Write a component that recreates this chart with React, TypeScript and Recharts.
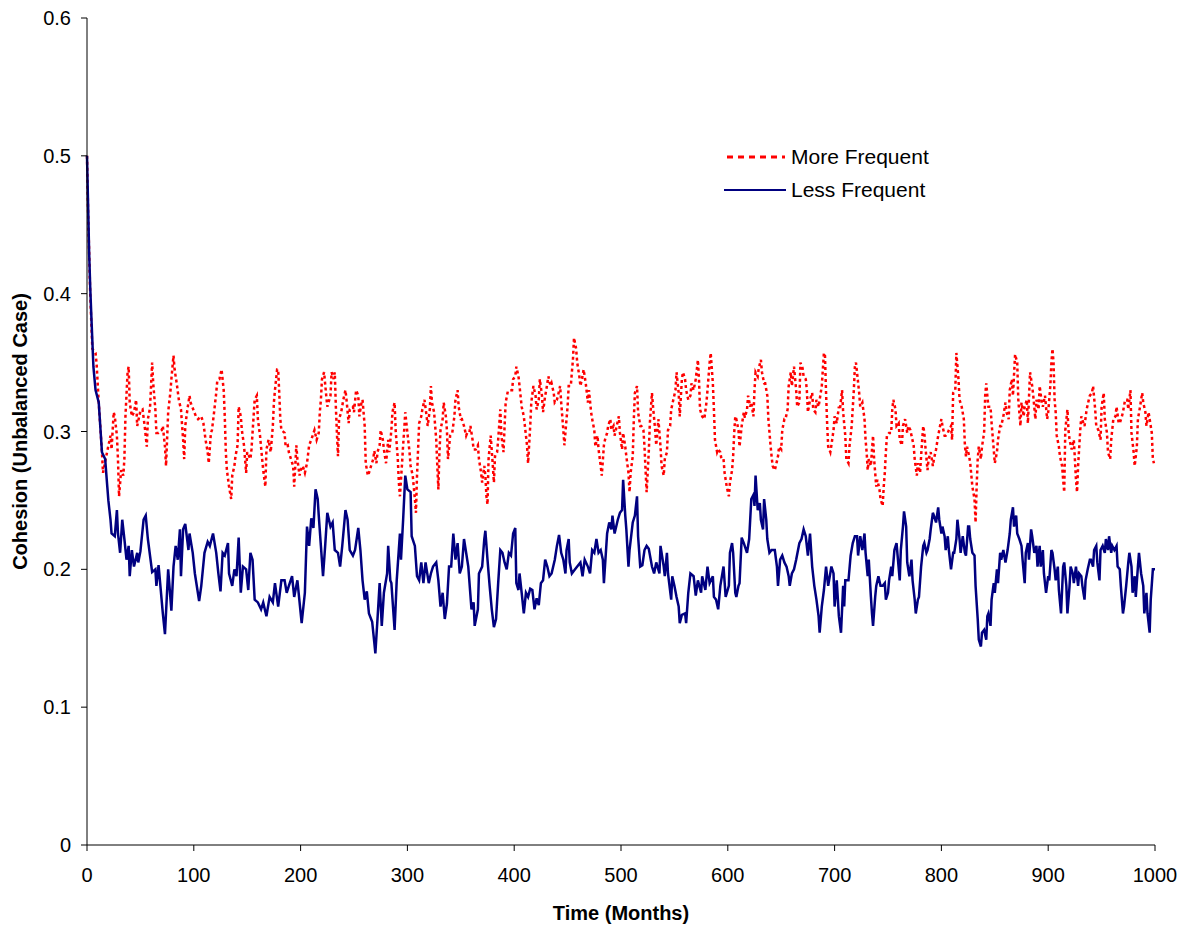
import React from "react";
import { LineChart, Line, XAxis, YAxis, Legend, Label } from "recharts";

// [month, cohesion] pairs
const lessFrequent: [number, number][] = [
  [0,0.5],[1,0.465],[2,0.43],[3,0.405],[4,0.385],[6,0.347],[8,0.33],[11,0.321],[14,0.285],[17,0.28],[19,0.26],[20,0.25],[22,0.236],[23,0.226],[26,0.224],[28,0.243],[29,0.226],[31,0.212],[33,0.236],[35,0.222],[37,0.207],[39,0.217],[40,0.195],[42,0.214],[44,0.202],[47,0.212],[48,0.205],[50,0.213],[53,0.236],[55,0.239],[57,0.222],[61,0.198],[64,0.2],[65,0.188],[67,0.203],[71,0.168],[73,0.153],[76,0.2],[79,0.17],[81,0.202],[83,0.217],[85,0.207],[87,0.229],[88,0.195],[90,0.229],[92,0.233],[95,0.214],[96,0.226],[99,0.212],
  [101,0.197],[105,0.177],[107,0.188],[110,0.212],[113,0.22],[115,0.217],[118,0.226],[121,0.212],[123,0.197],[125,0.184],[127,0.212],[129,0.21],[132,0.219],[133,0.197],[136,0.188],[138,0.2],[140,0.195],[142,0.223],[144,0.183],[146,0.202],[149,0.2],[151,0.185],[153,0.212],[155,0.207],[157,0.178],[160,0.176],[163,0.171],[165,0.176],[168,0.166],[171,0.18],[174,0.176],[176,0.19],[179,0.173],[182,0.192],[185,0.192],[187,0.183],[189,0.188],[192,0.195],[194,0.18],[197,0.192],
  [201,0.161],[204,0.183],[206,0.231],[208,0.217],[210,0.237],[212,0.23],[214,0.258],[216,0.251],[217,0.239],[219,0.217],[221,0.195],[223,0.217],[225,0.241],[228,0.231],[230,0.234],[232,0.214],[235,0.212],[237,0.202],[239,0.217],[242,0.243],[244,0.236],[246,0.214],[249,0.21],[251,0.214],[254,0.23],[256,0.214],[258,0.192],[260,0.178],[262,0.184],[264,0.168],[267,0.162],[269,0.147],[270,0.139],[272,0.164],[274,0.19],[276,0.159],[278,0.183],[281,0.197],[282,0.217],[284,0.192],[285,0.19],[288,0.156],[290,0.192],[293,0.226],[294,0.207],[296,0.236],[298,0.268],
  [300,0.258],[303,0.256],[304,0.224],[307,0.217],[309,0.195],[311,0.192],[313,0.205],[315,0.19],[317,0.205],[320,0.19],[322,0.197],[324,0.202],[327,0.205],[329,0.192],[331,0.173],[333,0.183],[335,0.164],[337,0.175],[339,0.202],[341,0.202],[343,0.226],[345,0.207],[347,0.219],[349,0.197],[351,0.202],[353,0.222],[355,0.212],[357,0.202],[360,0.171],[362,0.176],[363,0.159],[366,0.171],[367,0.197],[370,0.202],[372,0.222],[373,0.228],[375,0.207],[377,0.188],[379,0.171],[381,0.158],[383,0.164],[385,0.19],[387,0.214],[389,0.212],[391,0.205],[393,0.2],[395,0.212],[397,0.21],[399,0.226],
  [401,0.23],[402,0.19],[404,0.185],[405,0.197],[407,0.183],[409,0.168],[411,0.183],[413,0.18],[415,0.186],[417,0.185],[419,0.171],[421,0.179],[423,0.174],[425,0.19],[427,0.192],[429,0.207],[431,0.202],[433,0.195],[435,0.197],[438,0.207],[440,0.217],[442,0.225],[444,0.212],[446,0.207],[448,0.197],[449,0.214],[451,0.222],[452,0.205],[454,0.197],[457,0.2],[459,0.202],[462,0.205],[464,0.195],[466,0.207],[469,0.202],[471,0.197],[473,0.214],[475,0.212],[477,0.222],[479,0.212],[481,0.214],[483,0.207],[484,0.19],[487,0.226],[489,0.234],[491,0.229],[492,0.239],[494,0.226],[497,0.236],[499,0.241],
  [501,0.243],[502,0.265],[504,0.239],[505,0.229],[507,0.202],[508,0.214],[511,0.234],[513,0.239],[515,0.253],[516,0.224],[518,0.202],[520,0.203],[522,0.214],[524,0.217],[526,0.215],[529,0.202],[531,0.197],[533,0.205],[536,0.197],[537,0.217],[540,0.202],[541,0.195],[543,0.212],[544,0.197],[547,0.178],[548,0.195],[550,0.188],[552,0.18],[554,0.173],[555,0.161],[557,0.167],[560,0.168],[561,0.161],[563,0.183],[565,0.197],[568,0.195],[570,0.181],[572,0.192],[575,0.183],[576,0.195],[579,0.185],[581,0.202],[583,0.19],[586,0.195],[587,0.18],[589,0.178],[591,0.171],[593,0.188],[596,0.202],[598,0.18],
  [601,0.188],[602,0.212],[604,0.219],[605,0.212],[607,0.183],[608,0.18],[610,0.188],[611,0.19],[613,0.223],[615,0.219],[618,0.212],[620,0.222],[622,0.251],[624,0.254],[625,0.246],[626,0.268],[628,0.243],[630,0.248],[631,0.236],[633,0.229],[634,0.251],[636,0.236],[637,0.222],[639,0.212],[641,0.214],[644,0.214],[646,0.202],[647,0.188],[649,0.207],[651,0.21],[653,0.205],[655,0.202],[657,0.195],[658,0.188],[660,0.197],[662,0.2],[664,0.207],[667,0.219],[669,0.222],[671,0.229],[673,0.224],[675,0.21],[677,0.226],[679,0.202],[681,0.188],[683,0.178],[685,0.166],[686,0.154],[688,0.173],[690,0.185],[692,0.202],[694,0.188],[697,0.202],[699,0.197],
  [700,0.173],[702,0.192],[704,0.166],[706,0.154],[708,0.188],[709,0.173],[710,0.192],[713,0.192],[715,0.21],[717,0.219],[719,0.224],[721,0.224],[722,0.21],[724,0.224],[726,0.214],[728,0.226],[729,0.212],[731,0.195],[732,0.207],[734,0.18],[735,0.168],[736,0.159],[738,0.18],[739,0.188],[741,0.195],[743,0.188],[745,0.188],[747,0.19],[748,0.178],[750,0.183],[751,0.192],[753,0.202],[754,0.195],[756,0.214],[758,0.219],[759,0.21],[761,0.192],[762,0.214],[764,0.231],[765,0.242],[767,0.231],[768,0.205],[770,0.195],[772,0.207],[773,0.192],[775,0.178],[776,0.168],[778,0.178],[779,0.18],[781,0.202],[783,0.217],[784,0.219],[786,0.212],[787,0.214],[789,0.222],[790,0.229],[792,0.241],[793,0.239],[795,0.234],[797,0.245],[798,0.236],
  [800,0.226],[801,0.231],[803,0.224],[804,0.214],[806,0.224],[807,0.214],[809,0.2],[811,0.212],[812,0.212],[814,0.222],[815,0.236],[817,0.222],[818,0.212],[820,0.224],[822,0.212],[823,0.21],[825,0.231],[826,0.231],[827,0.222],[829,0.212],[831,0.21],[832,0.188],[834,0.164],[835,0.149],[837,0.144],[838,0.154],[840,0.156],[842,0.149],[843,0.166],[844,0.168],[846,0.159],[847,0.178],[849,0.19],[850,0.183],[852,0.2],[853,0.19],[855,0.212],[856,0.207],[858,0.214],[860,0.205],[862,0.214],[864,0.226],[865,0.236],[867,0.245],[868,0.231],[870,0.239],[871,0.226],[873,0.222],[875,0.217],[876,0.207],[878,0.19],[879,0.212],[881,0.219],[882,0.207],[884,0.229],[885,0.224],[887,0.212],[889,0.217],[890,0.202],[892,0.217],[893,0.202],[895,0.214],[896,0.197],[898,0.183],
  [900,0.195],[901,0.192],[903,0.214],[904,0.212],[906,0.2],[907,0.192],[909,0.202],[910,0.185],[912,0.168],[914,0.202],[915,0.205],[917,0.188],[918,0.168],[920,0.188],[921,0.202],[923,0.197],[924,0.19],[926,0.202],[928,0.188],[929,0.197],[931,0.195],[932,0.188],[934,0.178],[935,0.192],[937,0.2],[939,0.207],[940,0.207],[942,0.202],[943,0.214],[945,0.217],[946,0.205],[948,0.192],[949,0.214],[951,0.217],[953,0.212],[954,0.222],[956,0.214],[957,0.224],[959,0.212],[960,0.217],[962,0.214],[964,0.217],[965,0.202],[967,0.2],[968,0.188],[970,0.168],[971,0.173],[973,0.188],[975,0.205],[976,0.212],[978,0.202],[979,0.183],[981,0.195],[982,0.18],[984,0.202],[985,0.212],[987,0.197],[989,0.188],[990,0.168],[992,0.183],[993,0.168],[995,0.154],[996,0.178],[998,0.2],[1000,0.2],
];

const moreFrequent: [number, number][] = [
  [0,0.5],[1,0.46],[2,0.43],[3,0.4],[5,0.36],[8,0.357],[9,0.349],[11,0.321],[14,0.285],[15,0.27],[18,0.282],[22,0.297],[23,0.287],[25,0.314],[26,0.311],[28,0.297],[29,0.28],[30,0.253],[32,0.272],[34,0.268],[35,0.28],[36,0.311],[38,0.343],[39,0.347],[40,0.321],[42,0.311],[44,0.314],[46,0.323],[47,0.304],[50,0.315],[52,0.316],[54,0.304],[56,0.289],[57,0.309],[59,0.317],[61,0.35],[62,0.335],[64,0.316],[65,0.299],[67,0.299],[70,0.301],[71,0.304],[73,0.289],[74,0.275],[76,0.314],[78,0.328],[79,0.338],[81,0.355],[82,0.345],[84,0.335],[86,0.323],[88,0.316],[90,0.294],[91,0.28],[92,0.304],[94,0.316],[96,0.326],[97,0.321],
  [100,0.315],[102,0.311],[104,0.309],[107,0.311],[109,0.306],[111,0.294],[113,0.285],[114,0.277],[116,0.299],[117,0.301],[119,0.314],[121,0.328],[122,0.337],[124,0.338],[126,0.345],[128,0.33],[129,0.311],[130,0.285],[131,0.272],[133,0.26],[135,0.251],[136,0.268],[138,0.275],[139,0.282],[141,0.29],[142,0.318],[144,0.311],[145,0.301],[147,0.29],[149,0.27],[150,0.285],[153,0.28],[154,0.287],[156,0.311],[157,0.323],[159,0.326],[160,0.309],[162,0.297],[164,0.28],[165,0.272],[167,0.26],[168,0.287],[170,0.294],[172,0.285],[174,0.304],[175,0.321],[176,0.33],[178,0.345],[179,0.345],[180,0.328],[181,0.309],[182,0.301],[185,0.299],[186,0.289],[188,0.29],[189,0.285],[191,0.28],[193,0.275],[194,0.26],[196,0.29],[197,0.28],[199,0.268],
  [200,0.272],[202,0.275],[204,0.27],[206,0.277],[208,0.29],[210,0.294],[213,0.301],[215,0.294],[217,0.299],[218,0.314],[219,0.323],[220,0.338],[222,0.343],[224,0.326],[225,0.318],[228,0.326],[229,0.343],[231,0.338],[232,0.343],[233,0.318],[234,0.299],[235,0.282],[236,0.309],[238,0.314],[240,0.323],[242,0.33],[243,0.323],[245,0.306],[246,0.316],[249,0.318],[250,0.314],[252,0.33],[254,0.326],[255,0.311],[257,0.321],[258,0.323],[260,0.304],[261,0.277],[263,0.268],[264,0.27],[266,0.275],[268,0.28],[269,0.286],[271,0.277],[272,0.285],[274,0.29],[275,0.301],[277,0.294],[278,0.287],[280,0.277],[282,0.294],[283,0.285],[285,0.301],[286,0.314],[288,0.321],[289,0.301],[291,0.28],[292,0.263],[293,0.253],[295,0.277],[296,0.29],[297,0.301],[298,0.314],
  [300,0.299],[302,0.285],[303,0.275],[305,0.268],[307,0.251],[308,0.241],[309,0.268],[310,0.287],[311,0.306],[313,0.311],[314,0.316],[316,0.323],[318,0.311],[319,0.304],[321,0.316],[322,0.333],[323,0.321],[325,0.314],[327,0.294],[328,0.275],[329,0.258],[330,0.285],[331,0.301],[333,0.309],[334,0.321],[336,0.311],[337,0.301],[338,0.28],[340,0.297],[342,0.299],[344,0.311],[345,0.323],[347,0.33],[348,0.318],[350,0.309],[351,0.309],[353,0.304],[355,0.297],[356,0.299],[358,0.299],[359,0.304],[361,0.294],[362,0.287],[364,0.287],[366,0.29],[367,0.28],[369,0.27],[370,0.263],[372,0.275],[373,0.268],[374,0.253],[375,0.247],[376,0.28],[378,0.297],[380,0.275],[381,0.263],[382,0.282],[384,0.285],[385,0.294],[387,0.316],[388,0.297],[390,0.285],[391,0.304],[392,0.321],[394,0.329],[396,0.33],[398,0.33],[399,0.338],
  [401,0.34],[402,0.347],[404,0.34],[405,0.333],[407,0.318],[409,0.311],[410,0.304],[412,0.29],[413,0.277],[415,0.304],[416,0.321],[418,0.333],[420,0.326],[421,0.316],[423,0.323],[424,0.338],[426,0.326],[427,0.314],[429,0.326],[430,0.33],[432,0.34],[434,0.333],[435,0.335],[437,0.328],[438,0.321],[440,0.323],[441,0.326],[443,0.333],[444,0.321],[446,0.301],[447,0.29],[449,0.309],[450,0.318],[451,0.333],[453,0.333],[454,0.343],[455,0.352],[456,0.368],[458,0.36],[459,0.35],[461,0.34],[462,0.333],[464,0.34],[465,0.345],[467,0.335],[469,0.321],[470,0.33],[472,0.314],[473,0.309],[475,0.301],[476,0.289],[478,0.297],[479,0.287],[481,0.275],[482,0.268],[484,0.29],[485,0.294],[487,0.299],[488,0.304],[490,0.309],[491,0.301],[493,0.304],[494,0.297],[496,0.304],[498,0.311],[499,0.299],
  [501,0.287],[502,0.299],[504,0.289],[505,0.282],[507,0.27],[508,0.256],[509,0.27],[511,0.282],[512,0.309],[513,0.328],[515,0.333],[516,0.314],[518,0.304],[519,0.304],[521,0.301],[522,0.289],[523,0.272],[524,0.256],[526,0.285],[527,0.306],[529,0.328],[530,0.318],[532,0.301],[533,0.29],[535,0.309],[537,0.289],[538,0.275],[540,0.268],[541,0.28],[543,0.285],[544,0.301],[546,0.304],[547,0.316],[549,0.323],[551,0.33],[552,0.343],[554,0.328],[555,0.311],[557,0.338],[558,0.343],[560,0.338],[561,0.33],[563,0.323],[565,0.326],[566,0.335],[568,0.33],[570,0.338],[572,0.352],[573,0.338],[574,0.316],[576,0.311],[578,0.309],[580,0.321],[581,0.33],[583,0.35],[584,0.357],[586,0.335],[587,0.316],[588,0.294],[590,0.285],[591,0.287],[593,0.285],[594,0.28],[596,0.28],[597,0.27],[599,0.26],
  [601,0.253],[602,0.263],[604,0.272],[605,0.282],[606,0.299],[607,0.311],[608,0.309],[610,0.301],[611,0.289],[613,0.304],[615,0.314],[616,0.31],[618,0.316],[619,0.326],[621,0.318],[622,0.321],[624,0.311],[625,0.33],[626,0.343],[628,0.34],[629,0.346],[631,0.352],[632,0.343],[634,0.335],[635,0.335],[637,0.326],[638,0.309],[640,0.29],[641,0.282],[642,0.275],[644,0.272],[645,0.275],[647,0.282],[648,0.289],[650,0.287],[651,0.301],[653,0.309],[654,0.309],[656,0.316],[657,0.333],[659,0.343],[660,0.333],[662,0.347],[664,0.33],[665,0.318],[667,0.321],[668,0.35],[670,0.346],[671,0.34],[673,0.338],[674,0.33],[675,0.314],[677,0.323],[679,0.328],[680,0.316],[682,0.314],[683,0.323],[685,0.318],[686,0.323],[688,0.333],[690,0.357],[691,0.355],[692,0.328],[693,0.306],[694,0.289],[696,0.285],[697,0.29],[699,0.301],
  [700,0.311],[702,0.306],[704,0.318],[705,0.316],[707,0.33],[708,0.314],[710,0.297],[711,0.28],[713,0.277],[714,0.29],[716,0.304],[718,0.33],[719,0.347],[720,0.35],[721,0.343],[723,0.328],[724,0.318],[726,0.321],[728,0.309],[729,0.294],[730,0.285],[731,0.272],[732,0.28],[734,0.275],[735,0.287],[736,0.297],[737,0.28],[739,0.26],[740,0.265],[742,0.258],[743,0.251],[745,0.246],[746,0.26],[747,0.27],[748,0.285],[749,0.297],[751,0.299],[753,0.299],[754,0.316],[755,0.323],[757,0.316],[758,0.304],[760,0.306],[761,0.294],[763,0.29],[764,0.304],[766,0.309],[768,0.299],[769,0.304],[771,0.301],[772,0.297],[774,0.29],[775,0.28],[777,0.268],[778,0.277],[780,0.27],[782,0.294],[783,0.304],[784,0.299],[785,0.289],[787,0.272],[788,0.28],[790,0.285],[792,0.275],[793,0.28],[795,0.287],[797,0.297],[798,0.301],
  [800,0.309],[801,0.304],[803,0.297],[804,0.297],[806,0.299],[807,0.301],[809,0.304],[810,0.294],[811,0.328],[813,0.33],[814,0.357],[816,0.338],[817,0.323],[819,0.318],[821,0.309],[822,0.29],[823,0.282],[824,0.289],[826,0.282],[827,0.277],[829,0.26],[831,0.251],[832,0.234],[833,0.26],[834,0.28],[835,0.289],[837,0.28],[838,0.289],[840,0.299],[841,0.326],[842,0.335],[843,0.326],[844,0.318],[846,0.318],[847,0.306],[849,0.287],[850,0.277],[852,0.285],[853,0.294],[855,0.304],[856,0.304],[858,0.311],[860,0.321],[861,0.314],[863,0.309],[864,0.33],[866,0.338],[867,0.326],[869,0.356],[871,0.35],[872,0.323],[874,0.304],[875,0.321],[877,0.311],[878,0.318],[880,0.323],[881,0.306],[883,0.343],[885,0.333],[886,0.326],[888,0.309],[889,0.323],[891,0.316],[892,0.333],[894,0.321],[895,0.318],[897,0.326],[899,0.309],
  [900,0.314],[902,0.333],[903,0.35],[904,0.36],[905,0.35],[906,0.323],[907,0.314],[908,0.297],[910,0.289],[911,0.282],[913,0.275],[914,0.265],[915,0.256],[916,0.301],[918,0.316],[919,0.301],[920,0.294],[922,0.287],[924,0.294],[925,0.28],[926,0.265],[927,0.256],[928,0.275],[930,0.301],[931,0.311],[933,0.306],[934,0.304],[936,0.316],[938,0.323],[939,0.326],[941,0.328],[942,0.333],[944,0.316],[945,0.304],[947,0.301],[949,0.294],[950,0.318],[952,0.328],[953,0.309],[955,0.299],[956,0.285],[958,0.28],[959,0.294],[961,0.309],[963,0.311],[964,0.318],[966,0.306],[967,0.306],[969,0.311],[970,0.314],[972,0.323],[974,0.323],[975,0.316],[977,0.33],[978,0.299],[980,0.285],[981,0.275],[983,0.289],[984,0.309],[986,0.318],[988,0.328],[989,0.321],[991,0.314],[992,0.304],[994,0.314],[995,0.309],[997,0.299],[998,0.28],[999,0.277],
];

const xTicks = [0, 100, 200, 300, 400, 500, 600, 700, 800, 900, 1000];
const yTicks = [0, 0.1, 0.2, 0.3, 0.4, 0.5, 0.6];
const seriesNames = ["More Frequent", "Less Frequent"];

const FONT = "'Liberation Sans', Arial, sans-serif";

const lessData = lessFrequent.map(([m, v]) => ({ m, v }));
const moreData = moreFrequent.map(([m, v]) => ({ m, v }));

const LegendContent = () => (
  <div style={{ fontFamily: FONT, fontSize: 21, color: "#000" }}>
    <div style={{ display: "flex", alignItems: "center", height: 33 }}>
      <svg width={62} height={10} style={{ marginRight: 5 }}>
        <line x1={3} y1={5} x2={61} y2={5} stroke="#FF0000" strokeWidth={3} strokeDasharray="6 5" />
      </svg>
      <span>{seriesNames[0]}</span>
    </div>
    <div style={{ display: "flex", alignItems: "center", height: 33 }}>
      <svg width={62} height={10} style={{ marginRight: 5 }}>
        <line x1={0} y1={5} x2={62} y2={5} stroke="#000080" strokeWidth={2} />
      </svg>
      <span>{seriesNames[1]}</span>
    </div>
  </div>
);

export default function App() {
  return (
    <div style={{ position: "absolute", left: 0, top: 0, width: 1183, height: 927, background: "#fff" }}>
      <LineChart width={1183} height={927} margin={{ top: 18, right: 28, left: 0, bottom: 0 }}>
        <XAxis
          dataKey="m"
          type="number"
          domain={[0, 1000]}
          ticks={xTicks}
          interval={0}
          height={82}
          axisLine={{ stroke: "#000", strokeWidth: 1 }}
          tickLine={{ stroke: "#000" }}
          tickSize={6}
          tickMargin={17}
          tick={{ fill: "#000", fontSize: 20, fontFamily: FONT }}
          allowDuplicatedCategory={false}
        >
          <Label
            value="Time (Months)"
            position="insideBottom"
            offset={7}
            style={{ fontFamily: FONT, fontSize: 20, fontWeight: "bold", fill: "#000" }}
          />
        </XAxis>
        <YAxis
          type="number"
          domain={[0, 0.6]}
          ticks={yTicks}
          interval={0}
          width={87}
          axisLine={{ stroke: "#000", strokeWidth: 1 }}
          tickLine={{ stroke: "#000" }}
          tickSize={6}
          tickMargin={10}
          tick={{ fill: "#000", fontSize: 20, fontFamily: FONT }}
          tickFormatter={(v: number) => String(Math.round(v * 10) / 10)}
        >
          <Label
            value="Cohesion (Unbalanced Case)"
            angle={-90}
            position="insideLeft"
            offset={20}
            style={{ textAnchor: "middle", fontFamily: FONT, fontSize: 20, fontWeight: "bold", fill: "#000" }}
          />
        </YAxis>
        <Legend
          layout="vertical"
          align="center"
          verticalAlign="middle"
          content={<LegendContent />}
          wrapperStyle={{ position: "absolute", left: 724, top: 140, width: 260, height: 66 }}
        />
        <Line
          data={moreData}
          dataKey="v"
          type="linear"
          stroke="#FF0000"
          strokeWidth={2.5}
          strokeDasharray="3 3"
          dot={false}
          activeDot={false}
          isAnimationActive={false}
        />
        <Line
          data={lessData}
          dataKey="v"
          type="linear"
          stroke="#000080"
          strokeWidth={2.5}
          dot={false}
          activeDot={false}
          isAnimationActive={false}
        />
      </LineChart>
    </div>
  );
}
